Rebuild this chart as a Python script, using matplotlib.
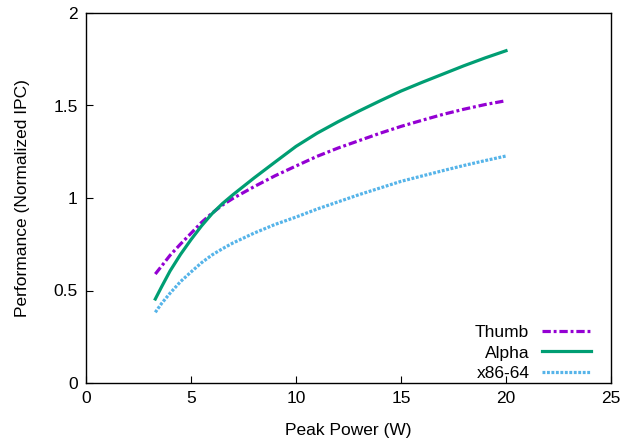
import matplotlib
matplotlib.use("Agg")
import matplotlib.pyplot as plt

plt.rcParams['font.family'] = ['Liberation Sans', 'DejaVu Sans']

power = [3.3, 3.6, 4, 4.5, 5, 5.5, 6, 6.5, 7, 8, 9, 10, 11, 12, 13, 14, 15, 16, 17, 18, 19, 20]
thumb = [0.589, 0.632, 0.690, 0.751, 0.809, 0.868, 0.918, 0.962, 0.998, 1.061, 1.120, 1.173,
         1.225, 1.27, 1.31, 1.35, 1.387, 1.42, 1.452, 1.48, 1.505, 1.526]
alpha = [0.454, 0.52, 0.605, 0.695, 0.775, 0.849, 0.915, 0.970, 1.018, 1.108, 1.194, 1.279,
         1.35, 1.412, 1.47, 1.525, 1.578, 1.625, 1.67, 1.715, 1.757, 1.796]
x86 = [0.382, 0.43, 0.485, 0.548, 0.60, 0.65, 0.692, 0.726, 0.757, 0.810, 0.857, 0.897,
       0.94, 0.979, 1.018, 1.054, 1.09, 1.119, 1.148, 1.176, 1.202, 1.227]

xticks = [0, 5, 10, 15, 20, 25]
yticks = [0, 0.5, 1, 1.5, 2]
yticklabels = ['0', '0.5', '1', '1.5', '2']

FS = 12.5
fig = plt.figure(figsize=(6.3, 4.4), dpi=100)
ax = fig.add_axes([86/630, 57/440, 525/630, 370/440])

ax.plot(power, thumb, color='#9400D3', lw=2.3, dashes=(2.6, 0.9, 0.9, 0.9), label='Thumb')
ax.plot(power, alpha, color='#009E73', lw=2.3, label='Alpha')
ax.plot(power, x86, color='#56B4E9', lw=2.3, dashes=(0.9, 0.5), label='x86-64')

ax.set_xlim(0, 25)
ax.set_ylim(0, 2)
ax.set_xticks(xticks)
ax.set_yticks(yticks)
ax.set_yticklabels(yticklabels)
ax.tick_params(direction='in', length=5, width=0.8, labelsize=FS, pad=6, colors='black')
for s in ax.spines.values():
    s.set_linewidth(1.0)

ax.set_xlabel('Peak Power (W)', fontsize=FS, labelpad=12)
ax.set_ylabel('Performance (Normalized IPC)', fontsize=FS, labelpad=17)

leg = ax.legend(loc='lower right', frameon=False, markerfirst=False, fontsize=FS,
                handlelength=2.8, handletextpad=0.75, labelspacing=0.3,
                borderaxespad=0.0, bbox_to_anchor=(0.975, -0.013))
for t in leg.get_texts():
    t.set_ha('right')

fig.savefig('out.png', dpi=100)
